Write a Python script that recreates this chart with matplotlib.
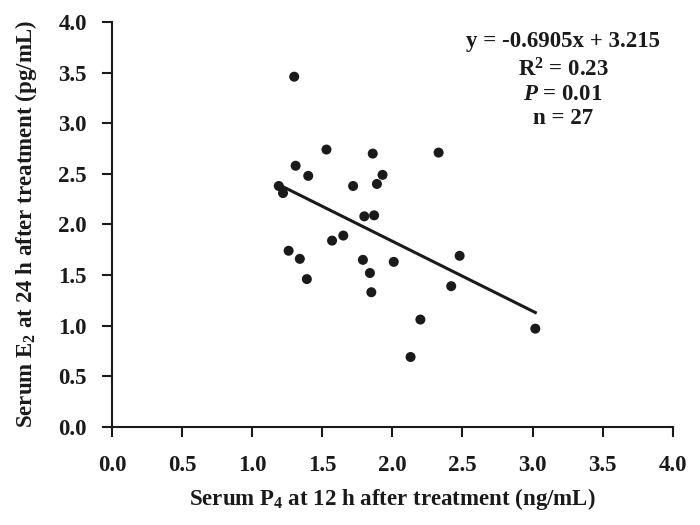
import matplotlib
matplotlib.use("Agg")
import matplotlib.pyplot as plt
import numpy as np

# Data
p4 = [1.30, 1.53, 1.86, 2.33, 1.31, 1.40, 1.93, 1.19, 1.22, 1.72, 1.89, 1.80, 1.87, 1.65,
      1.57, 1.26, 1.34, 1.39, 1.79, 1.84, 1.85, 2.01, 2.48, 2.42, 2.20, 2.13, 3.02]
e2 = [3.46, 2.74, 2.70, 2.71, 2.58, 2.48, 2.49, 2.38, 2.31, 2.38, 2.40, 2.08, 2.09, 1.89,
      1.84, 1.74, 1.66, 1.46, 1.65, 1.52, 1.33, 1.63, 1.69, 1.39, 1.06, 0.69, 0.97]
slope = -0.6905
intercept = 3.215
ticks = [0.0, 0.5, 1.0, 1.5, 2.0, 2.5, 3.0, 3.5, 4.0]
stats_lines = [r"y = -0.6905x + 3.215", r"R$^{2}$ = 0.23", r"$\mathit{P}$ = 0.01", r"n = 27"]

plt.rcParams['font.family'] = ['Liberation Serif', 'DejaVu Serif']
plt.rcParams['font.weight'] = 'bold'
plt.rcParams['mathtext.fontset'] = 'custom'
plt.rcParams['mathtext.rm'] = 'Liberation Serif:bold'
plt.rcParams['mathtext.it'] = 'Liberation Serif:italic:bold'
plt.rcParams['mathtext.bf'] = 'Liberation Serif:bold'
plt.rcParams['mathtext.default'] = 'rm'

ink = '#1a1a1a'
fs = 16.5
fig = plt.figure(figsize=(7, 5.25), dpi=100)
ax = fig.add_axes([0.16, 0.187, 0.801, 0.771])

ax.scatter(p4, e2, s=52, color=ink, zorder=3, edgecolors='none')
xs = np.array([min(p4), max(p4)])
ax.plot(xs, slope * xs + intercept, color=ink, lw=2.2, zorder=2)

ax.set_xlim(0, 4.0)
ax.set_ylim(0, 4.0)
ax.set_xticks(ticks)
ax.set_yticks(ticks)
ax.set_xticklabels([f"{t:.1f}" for t in ticks])
ax.set_yticklabels([f"{t:.1f}" for t in ticks])
for s in ['top', 'right']:
    ax.spines[s].set_visible(False)
for s in ['left', 'bottom']:
    ax.spines[s].set_linewidth(1.5)
    ax.spines[s].set_color(ink)
ax.tick_params(axis='both', direction='out', length=7, width=1.5, colors=ink,
               labelsize=fs)
ax.tick_params(axis='x', pad=13)
ax.tick_params(axis='y', pad=11)
for lab in ax.get_xticklabels() + ax.get_yticklabels():
    lab.set_fontweight('bold')

ax.set_xlabel(r"Serum P$_{4}$ at 12 h after treatment (ng/mL)", fontsize=fs,
              fontweight='bold', color=ink, va='center')
ax.set_ylabel(r"Serum E$_{2}$ at 24 h after treatment (pg/mL)", fontsize=fs,
              fontweight='bold', color=ink, va='center')
ax.xaxis.set_label_coords(0.5, (427 - 499) / 405)
ax.yaxis.set_label_coords((26 - 112) / 561, 0.5)

ys = [42, 70, 94, 118]
for txt, yp in zip(stats_lines, ys):
    fig.text(563 / 700, 1 - yp / 525, txt, ha='center', va='center', fontsize=fs,
             fontweight='bold', color=ink)

fig.savefig("out.png", dpi=100)
